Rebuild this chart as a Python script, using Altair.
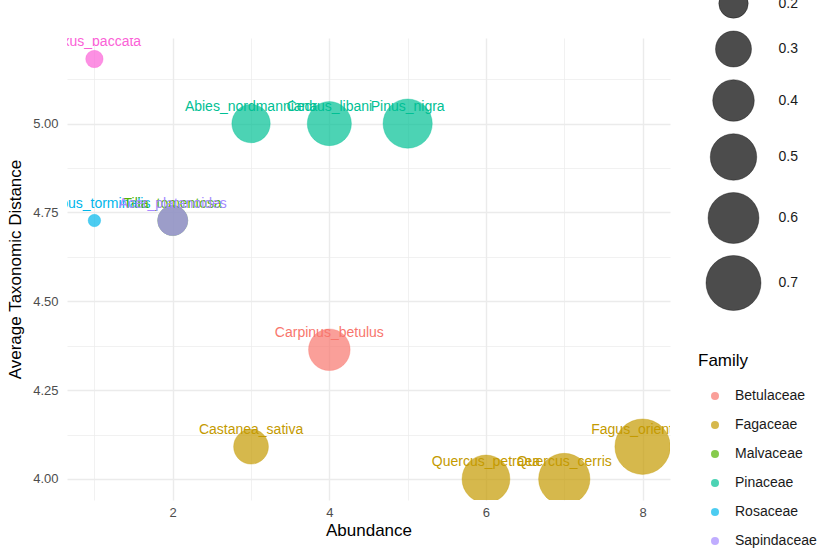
import altair as alt
import pandas as pd

# Species, their family, abundance, mean taxonomic distance and contribution
species = [
    "Taxus_baccata", "Abies_nordmanniana", "Cedrus_libani", "Pinus_nigra",
    "Sorbus_torminalis", "Tilia_tomentosa", "Acer_platanoides",
    "Carpinus_betulus", "Castanea_sativa", "Quercus_petraea",
    "Quercus_cerris", "Fagus_orientalis",
]
family = [
    "Taxaceae", "Pinaceae", "Pinaceae", "Pinaceae",
    "Rosaceae", "Malvaceae", "Sapindaceae",
    "Betulaceae", "Fagaceae", "Fagaceae",
    "Fagaceae", "Fagaceae",
]
abundance = [1, 3, 4, 5, 1, 2, 2, 4, 3, 6, 7, 8]
avg_distance = [5.1818, 5.0, 5.0, 5.0, 4.7273, 4.7273, 4.7273,
                4.3636, 4.0909, 4.0, 4.0, 4.0909]
contribution = [0.07, 0.34, 0.45, 0.56, 0.036, 0.21, 0.21,
                0.40, 0.28, 0.53, 0.61, 0.71]

families = ["Betulaceae", "Fagaceae", "Malvaceae", "Pinaceae",
            "Rosaceae", "Sapindaceae", "Taxaceae"]
family_colors = ["#F8766D", "#C49A00", "#53B400", "#00C094",
                 "#00B6EB", "#A58AFF", "#FB61D7"]

x_ticks = [1, 2, 3, 4, 5, 6, 7, 8]
y_ticks = [4.0, 4.125, 4.25, 4.375, 4.5, 4.625, 4.75, 4.875, 5.0, 5.125]
size_breaks = [0.1, 0.2, 0.3, 0.4, 0.5, 0.6, 0.7]

df = pd.DataFrame({
    "Species": species,
    "Family": family,
    "Abundance": abundance,
    "AvgDist": avg_distance,
    "Contribution": contribution,
})

FONT = "Liberation Sans"

x_enc = alt.X(
    "Abundance:Q",
    scale=alt.Scale(domain=[0.65, 8.35], nice=False, zero=False),
    axis=alt.Axis(
        values=x_ticks,
        format="d",
        labelExpr="datum.value % 2 == 0 ? datum.label : ''",
        gridWidth=alt.condition("datum.value % 2 == 0", alt.value(1.4), alt.value(0.7)),
        title="Abundance",
    ),
)
y_enc = alt.Y(
    "AvgDist:Q",
    scale=alt.Scale(domain=[3.9409, 5.2409], nice=False, zero=False),
    axis=alt.Axis(
        values=y_ticks,
        format=".2f",
        labelExpr="(datum.value * 4) % 1 == 0 ? datum.label : ''",
        gridWidth=alt.condition("(datum.value * 4) % 1 == 0", alt.value(1.4), alt.value(0.7)),
        title="Average Taxonomic Distance",
    ),
)
color_enc = alt.Color(
    "Family:N",
    scale=alt.Scale(domain=families, range=family_colors),
    legend=alt.Legend(
        title="Family", orient="none", legendX=631, legendY=315,
        symbolType="circle", symbolSize=64, symbolOpacity=0.7,
        symbolStrokeWidth=0, symbolOffset=10, labelOffset=13,
        rowPadding=15, titlePadding=19, padding=0,
    ),
)

points = alt.Chart(df).mark_circle(
    fillOpacity=0.7, strokeOpacity=0.35, strokeWidth=1, clip=True
).encode(
    x=x_enc,
    y=y_enc,
    color=color_enc,
    stroke=alt.Stroke("Family:N", scale=alt.Scale(domain=families, range=family_colors), legend=None),
    size=alt.Size(
        "Contribution:Q",
        scale=alt.Scale(domain=[0, 0.7], range=[0, 3025], zero=True),
        legend=alt.Legend(
            title="Contribution", orient="none", legendX=638.5, legendY=-105,
            values=size_breaks, symbolType="circle",
            symbolFillColor="rgba(0,0,0,0.7)", symbolStrokeColor="rgba(0,0,0,0.35)",
            symbolStrokeWidth=1, labelOffset=17, rowPadding=7, padding=0,
        ),
    ),
)

labels = alt.Chart(df).mark_text(
    dy=-17, fontSize=14, font=FONT, clip=True
).encode(
    x="Abundance:Q",
    y="AvgDist:Q",
    text="Species:N",
    color=alt.Color("Family:N", scale=alt.Scale(domain=families, range=family_colors), legend=None),
)

chart = alt.layer(points, labels).properties(
    width=603,
    height=462,
    autosize=alt.AutoSizeParams(type="none"),
    padding={"left": 67, "top": 38, "right": 170, "bottom": 52},
    title=alt.TitleParams(
        "Species Contributions to Taxonomic Diversity",
        anchor="start", font=FONT, fontSize=21.5, fontWeight="normal",
        color="black", offset=8,
    ),
).configure_view(
    stroke=None
).configure_axis(
    domain=False, ticks=False, tickSize=0,
    gridColor="#EBEBEB",
    labelFont=FONT, labelFontSize=13, labelColor="#4D4D4D",
    titleFont=FONT, titleFontSize=17, titleFontWeight="normal", titleColor="black",
).configure_axisX(
    labelPadding=6, titlePadding=3,
).configure_axisY(
    labelPadding=9, titlePadding=8,
).configure_legend(
    labelFont=FONT, labelFontSize=14, labelColor="#1A1A1A",
    titleFont=FONT, titleFontSize=17, titleFontWeight="normal", titleColor="black",
)

chart.save("out.html", embed_options={"renderer": "svg", "actions": False})
